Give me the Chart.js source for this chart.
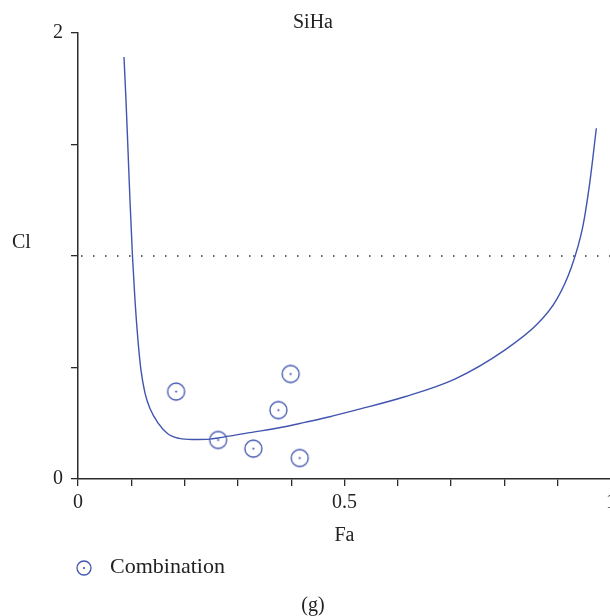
<!DOCTYPE html>
<html>
<head>
<meta charset="utf-8">
<title>SiHa Fa-CI plot</title>
<script src="https://cdn.jsdelivr.net/npm/chart.js@4/dist/chart.umd.min.js"></script>
<style>
  html, body { margin: 0; padding: 0; overflow: hidden; background: #fff; }
  #wrap { width: 625px; height: 616px; }
</style>
</head>
<body>
<div id="wrap"><canvas id="c" width="625" height="616"></canvas></div>
<script>
// Median-effect fit: combination index (CI) against fraction affected (Fa)
const curveFa = [0.0863, 0.090, 0.0938, 0.0975, 0.1022, 0.1069, 0.1125, 0.1181, 0.1256, 0.135, 0.150, 0.169, 0.190, 0.2138, 0.2475, 0.2625, 0.3225, 0.385, 0.4256, 0.4725, 0.5194, 0.6131, 0.7069, 0.8006, 0.8631, 0.8976, 0.926, 0.947, 0.960, 0.9725];
const curveCI = [1.892, 1.700, 1.476, 1.251, 1.000, 0.803, 0.623, 0.489, 0.386, 0.316, 0.252, 0.202, 0.182, 0.177, 0.179, 0.184, 0.208, 0.233, 0.254, 0.279, 0.308, 0.369, 0.448, 0.578, 0.698, 0.803, 0.952, 1.131, 1.326, 1.573];

// Measured drug combinations
const comboFa = [0.184, 0.263, 0.329, 0.376, 0.399, 0.416];
const comboCI = [0.392, 0.175, 0.136, 0.309, 0.471, 0.094];

// Additivity reference (CI = 1)
const refFa = [0, 1];
const refCI = [1, 1];

// Axis labels shown
const xLabelValues = [0, 0.5, 1];
const yLabelValues = [0, 2];

const BLUE = '#4155b0';
const INK = '#222';
const AXIS = '#2b2b2b';
const FONT = '"Liberation Serif", "DejaVu Serif", serif';

// Marker: open circle with a centre dot
function makeMarker(r) {
  const size = Math.ceil(r * 2 + 4);
  const cv = document.createElement('canvas');
  cv.width = size; cv.height = size;
  const g = cv.getContext('2d');
  g.strokeStyle = BLUE;
  g.lineWidth = 1.3;
  g.beginPath(); g.arc(size / 2, size / 2, r, 0, Math.PI * 2); g.stroke();
  g.fillStyle = BLUE;
  g.beginPath(); g.arc(size / 2, size / 2, 1.1, 0, Math.PI * 2); g.fill();
  return cv;
}
const pointMarker = makeMarker(8.5);
const legendMarker = makeMarker(7);

const toXY = (xs, ys) => xs.map((x, i) => ({ x, y: ys[i] }));
const near = (v, list) => list.some(t => Math.abs(v - t) < 1e-9);

// Legend and the "Cl" axis caption, drawn after the chart
const extras = {
  id: 'extras',
  afterDraw(chart) {
    const ctx = chart.ctx;
    ctx.save();
    ctx.fillStyle = INK;
    ctx.font = '20px ' + FONT;
    ctx.textAlign = 'left';
    ctx.textBaseline = 'alphabetic';
    ctx.fillText('Cl', 12, 248);
    const ds = chart.data.datasets[1];
    ctx.drawImage(legendMarker, 84 - legendMarker.width / 2, 568 - legendMarker.height / 2);
    ctx.font = '22px ' + FONT;
    ctx.fillText(ds.label, 110, 573);
    ctx.restore();
  }
};

new Chart(document.getElementById('c'), {
  type: 'scatter',
  data: {
    datasets: [
      {
        label: 'Fit',
        data: toXY(curveFa, curveCI),
        showLine: true,
        borderColor: BLUE,
        borderWidth: 1.4,
        pointRadius: 0,
        cubicInterpolationMode: 'monotone',
        order: 2
      },
      {
        label: 'Combination',
        data: toXY(comboFa, comboCI),
        showLine: false,
        pointStyle: pointMarker,
        pointRadius: 9,
        order: 1
      },
      {
        label: 'CI = 1',
        data: toXY(refFa, refCI),
        showLine: true,
        borderColor: '#333',
        borderWidth: 1.5,
        borderDash: [1.5, 10.5],
        borderDashOffset: 9,
        pointRadius: 0,
        order: 3
      }
    ]
  },
  options: {
    responsive: false,
    animation: false,
    layout: { padding: { top: 0, left: 15, right: 14, bottom: 0 } },
    plugins: {
      legend: { display: false },
      tooltip: { enabled: false },
      title: {
        display: true,
        text: 'SiHa',
        color: INK,
        font: { family: FONT, size: 20, weight: 'normal', lineHeight: 1.0 },
        padding: { top: 13, bottom: 0 }
      },
      subtitle: {
        display: true,
        position: 'bottom',
        text: '(g)',
        color: INK,
        font: { family: FONT, size: 20, weight: 'normal', lineHeight: 1.0 },
        padding: { top: 0, bottom: 0 }
      }
    },
    scales: {
      x: {
        type: 'linear',
        min: 0,
        max: 1,
        afterFit(s) { s.height = 117; },
        border: { display: true, color: AXIS, width: 1.5 },
        grid: { drawOnChartArea: false, drawTicks: true, tickLength: 7, color: AXIS, lineWidth: 1.3 },
        ticks: {
          stepSize: 0.1,
          autoSkip: false,
          maxRotation: 0,
          padding: 5,
          color: INK,
          font: { family: FONT, size: 20 },
          callback: v => near(v, xLabelValues) ? String(Math.round(v * 10) / 10) : ''
        },
        title: {
          display: true,
          text: 'Fa',
          color: INK,
          font: { family: FONT, size: 20, lineHeight: 1.2 },
          padding: { top: 0, bottom: 48 }
        }
      },
      y: {
        type: 'linear',
        min: 0,
        max: 2,
        afterFit(s) { s.width = 63; },
        border: { display: true, color: AXIS, width: 1.5 },
        grid: { drawOnChartArea: false, drawTicks: true, tickLength: 7, color: AXIS, lineWidth: 1.3 },
        ticks: {
          stepSize: 0.5,
          autoSkip: false,
          padding: 8,
          color: INK,
          font: { family: FONT, size: 20 },
          callback: v => near(v, yLabelValues) ? String(v) : ''
        }
      }
    }
  },
  plugins: [extras]
});
</script>
</body>
</html>
